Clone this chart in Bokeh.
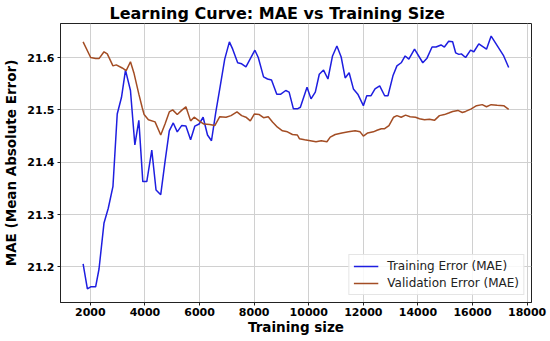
from bokeh.plotting import figure
from bokeh.models import Range1d, FixedTicker, Legend, LegendItem
from bokeh.embed import file_html
from bokeh.resources import INLINE

# Training error (MAE)
train_sizes = [1734, 1891, 2011, 2193, 2317, 2500, 2656, 2828, 2984, 3141, 3287, 3469,
               3630, 3776, 3921, 4067, 4250, 4406, 4578, 4735, 4891, 5037, 5183, 5343,
               5500, 5672, 5828, 5985, 6131, 6291, 6437, 6594, 6740, 6922, 7093, 7214,
               7396, 7542, 7699, 8027, 8151, 8344, 8490, 8636, 8829, 8975, 9157, 9281,
               9438, 9584, 9693, 9937, 10083, 10240, 10386, 10543, 10703, 10871, 11031,
               11188, 11334, 11480, 11636, 11797, 12001, 12125, 12282, 12428, 12599,
               12781, 12902, 13084, 13230, 13386, 13532, 13667, 13875, 14178, 14323,
               14517, 14663, 14845, 14969, 15126, 15271, 15381, 15501, 15589, 15746,
               15928, 16048, 16230, 16511, 16682, 16839, 17142, 17324]
train_mae = [21.206, 21.158, 21.162, 21.162, 21.196, 21.284, 21.312, 21.354, 21.492,
             21.524, 21.576, 21.537, 21.433, 21.480, 21.363, 21.363, 21.423, 21.347,
             21.338, 21.401, 21.460, 21.475, 21.458, 21.470, 21.469, 21.443, 21.469,
             21.473, 21.486, 21.452, 21.441, 21.495, 21.540, 21.597, 21.630, 21.616,
             21.590, 21.588, 21.582, 21.614, 21.600, 21.563, 21.559, 21.557, 21.530,
             21.530, 21.537, 21.534, 21.502, 21.502, 21.505, 21.543, 21.521, 21.534,
             21.568, 21.576, 21.559, 21.603, 21.622, 21.601, 21.561, 21.571, 21.540,
             21.530, 21.508, 21.527, 21.527, 21.540, 21.546, 21.527, 21.527, 21.565,
             21.584, 21.590, 21.603, 21.597, 21.616, 21.590, 21.598, 21.620, 21.620,
             21.624, 21.620, 21.631, 21.630, 21.609, 21.606, 21.607, 21.600, 21.614,
             21.611, 21.626, 21.616, 21.641, 21.628, 21.603, 21.581]

# Validation error (MAE)
val_sizes = [1734, 2011, 2193, 2317, 2500, 2620, 2828, 2948, 3167, 3313, 3469, 3593,
             3776, 3896, 3969, 4126, 4370, 4578, 4735, 4891, 5015, 5183, 5343, 5500,
             5672, 5803, 5985, 6157, 6375, 6558, 6740, 6970, 7152, 7371, 7542, 7699,
             7859, 8005, 8188, 8344, 8516, 8672, 8855, 9037, 9219, 9402, 9584, 9657,
             9850, 10058, 10266, 10459, 10667, 10787, 10969, 11214, 11454, 11699,
             11881, 12001, 12161, 12366, 12501, 12658, 12781, 12938, 13109, 13230,
             13386, 13547, 13714, 13911, 14057, 14240, 14422, 14604, 14787, 14969,
             15126, 15271, 15464, 15626, 15746, 15954, 16147, 16355, 16511, 16682,
             16901, 17142, 17324]
val_mae = [21.630, 21.600, 21.598, 21.598, 21.611, 21.607, 21.584, 21.586, 21.580,
           21.575, 21.592, 21.571, 21.530, 21.505, 21.491, 21.481, 21.477, 21.452,
           21.473, 21.496, 21.500, 21.491, 21.499, 21.506, 21.479, 21.486, 21.479,
           21.473, 21.472, 21.470, 21.487, 21.486, 21.489, 21.496, 21.489, 21.486,
           21.479, 21.492, 21.491, 21.485, 21.487, 21.477, 21.467, 21.460, 21.458,
           21.453, 21.452, 21.445, 21.443, 21.441, 21.439, 21.441, 21.439, 21.448,
           21.453, 21.456, 21.458, 21.460, 21.458, 21.450, 21.456, 21.458, 21.461,
           21.464, 21.464, 21.470, 21.486, 21.489, 21.486, 21.490, 21.487, 21.486,
           21.483, 21.481, 21.482, 21.480, 21.489, 21.491, 21.494, 21.497, 21.499,
           21.495, 21.497, 21.502, 21.508, 21.510, 21.506, 21.510, 21.509, 21.508,
           21.501]

x_ticks = [2000, 4000, 6000, 8000, 10000, 12000, 14000, 16000, 18000]
y_ticks = [21.2, 21.3, 21.4, 21.5, 21.6]

FONT = "DejaVu Sans"

p = figure(width=550, height=341, output_backend="svg", toolbar_location=None,
           x_range=Range1d(906, 18160), y_range=Range1d(21.132, 21.665),
           min_border_left=58, min_border_right=19, min_border_top=0,
           min_border_bottom=39, background_fill_color="white",
           border_fill_color="white")

p.title.text = "Learning Curve: MAE vs Training Size"
p.title.text_font = FONT
p.title.text_font_size = "16px"
p.title.text_font_style = "bold"
p.title.align = "left"
p.title.offset = 49
p.title.standoff = 2
p.title.text_color = "black"

l1 = p.line(train_sizes, train_mae, line_color="#1e1ee0", line_width=1.5)
l2 = p.line(val_sizes, val_mae, line_color="#a34d24", line_width=1.5)

p.outline_line_color = "#222222"
p.outline_line_width = 1

for ax in (p.xaxis[0], p.yaxis[0]):
    ax.major_label_text_font = FONT
    ax.major_label_text_font_size = "11px"
    ax.major_label_text_font_style = "bold"
    ax.major_label_text_color = "black"
    ax.axis_label_text_font = FONT
    ax.axis_label_text_font_size = "13.5px"
    ax.axis_label_text_font_style = "bold"
    ax.axis_label_text_color = "black"
    ax.minor_tick_line_color = None
    ax.major_tick_out = 3
    ax.major_tick_in = 0
    ax.major_tick_line_color = "#222222"
    ax.axis_line_color = "#222222"

p.xaxis[0].major_label_standoff = 2
p.xaxis[0].axis_label_standoff = 0
p.yaxis[0].major_label_standoff = 3
p.yaxis[0].axis_label_standoff = 5

p.xaxis[0].ticker = FixedTicker(ticks=x_ticks)
p.yaxis[0].ticker = FixedTicker(ticks=y_ticks)
p.xaxis[0].axis_label = "Training size"
p.yaxis[0].axis_label = "MAE (Mean Absolute Error)"

p.xgrid.ticker = FixedTicker(ticks=x_ticks)
p.ygrid.ticker = FixedTicker(ticks=y_ticks)
p.grid.grid_line_color = "#d0d0d0"
p.grid.grid_line_width = 1

legend = Legend(items=[LegendItem(label="Training Error (MAE)", renderers=[l1]),
                       LegendItem(label="Validation Error (MAE)", renderers=[l2])],
                location="bottom_right")
legend.label_text_font = FONT
legend.label_text_font_size = "12px"
legend.label_text_color = "#222222"
legend.glyph_width = 25
legend.glyph_height = 14
legend.label_height = 14
legend.spacing = 3
legend.padding = 4
legend.margin = 7
legend.label_standoff = 9
legend.border_line_color = "#cccccc"
legend.border_line_width = 1
legend.background_fill_color = "white"
legend.background_fill_alpha = 0.85
p.add_layout(legend)

open("out.html", "w").write(file_html(p, INLINE))
